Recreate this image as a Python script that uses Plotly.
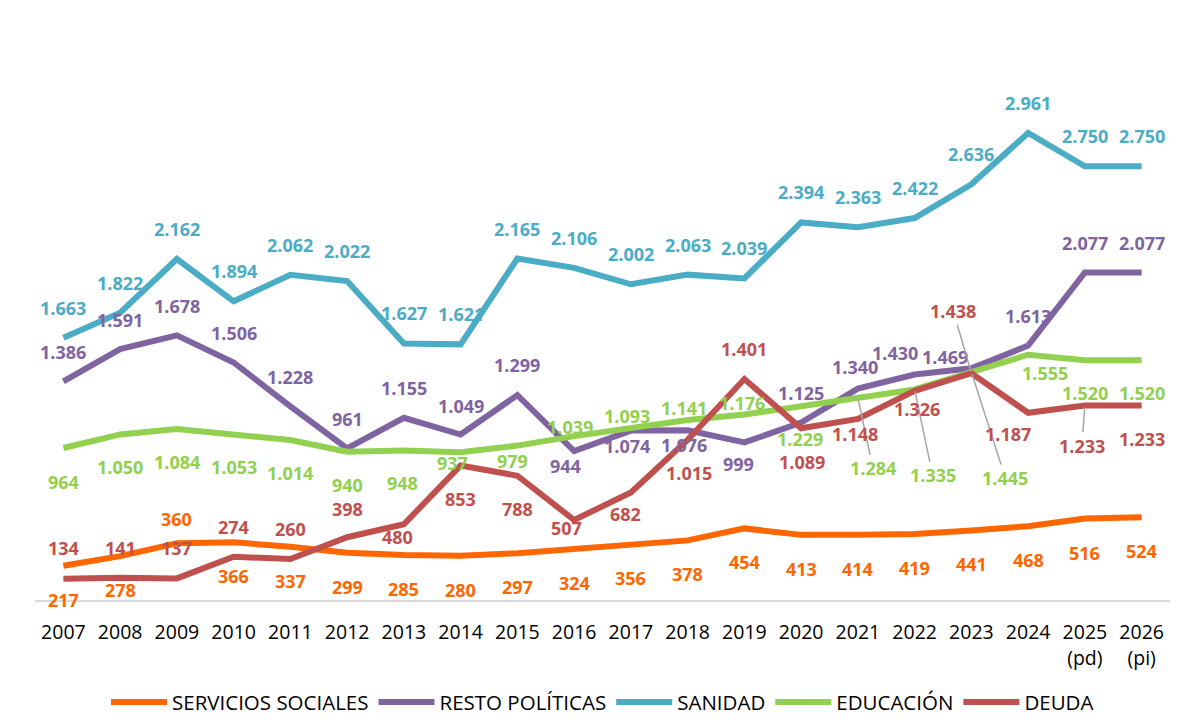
import plotly.graph_objects as go

YEARS = list(range(2007, 2027))
TICK_LABELS = [str(y) for y in range(2007, 2025)] + ["2025<br>(pd)", "2026<br>(pi)"]

SERVICIOS_SOCIALES = [217, 278, 360, 366, 337, 299, 285, 280, 297, 324, 356, 378, 454, 413, 414, 419, 441, 468, 516, 524]
RESTO_POLITICAS = [1386, 1591, 1678, 1506, 1228, 961, 1155, 1049, 1299, 944, 1074, 1076, 999, 1125, 1340, 1430, 1469, 1613, 2077, 2077]
SANIDAD = [1663, 1822, 2162, 1894, 2062, 2022, 1627, 1621, 2165, 2106, 2002, 2063, 2039, 2394, 2363, 2422, 2636, 2961, 2750, 2750]
EDUCACION = [964, 1050, 1084, 1053, 1014, 940, 948, 937, 979, 1039, 1093, 1141, 1176, 1229, 1284, 1335, 1445, 1555, 1520, 1520]
DEUDA = [134, 141, 137, 274, 260, 398, 480, 853, 788, 507, 682, 1015, 1401, 1089, 1148, 1326, 1438, 1187, 1233, 1233]

# label placement (pixel offsets dx, dy; dy positive = downward), and leader-line flags
OFF_SS = [(0, 34), (0, 34), (0, -24)] + [(0, 34)] * 17
OFF_RP = [(0, -29), (0, -29), (0, -29), (0, -29), (0, -29), (0, -29), (0, -30), (0, -29), (0, -30),
          (-9, 15), (-4, 15), (-4, 15), (-6, 22), (0, -30), (-3, -22), (-20, -21), (-26, -11),
          (0, -30), (0, -29), (0, -29)]
OFF_SA = [(0, -30)] * 20
OFF_ED = [(0, 34), (0, 33), (0, 33), (0, 33), (0, 33), (0, 33), (-1, 33), (-8, 11), (-5, 15),
          (-4, -9), (-4, -12), (-4, -12), (-2, -12), (-1, 33), (15, 71), (18, 86), (34, 106),
          (17, 18), (0, 33), (0, 33)]
OFF_DE = [(0, -31), (0, -30), (0, -30), (0, -30), (0, -30), (0, -28), (-6, 13), (0, 34), (0, 33),
          (-8, 8), (-5, 22), (1, 33), (0, -30), (1, 34), (-3, 15), (2, 18), (-18, -62), (-20, 21),
          (-3, 40), (0, 33)]
LEADER_ED = {14, 15, 16}
LEADER_DE = {16, 18}

SERIES = [
    ("SERVICIOS SOCIALES", SERVICIOS_SOCIALES, "#FF6600", OFF_SS, set()),
    ("RESTO POLÍTICAS", RESTO_POLITICAS, "#8064A2", OFF_RP, set()),
    ("SANIDAD", SANIDAD, "#4BACC6", OFF_SA, set()),
    ("EDUCACIÓN", EDUCACION, "#92D050", OFF_ED, LEADER_ED),
    ("DEUDA", DEUDA, "#C0504D", OFF_DE, LEADER_DE),
]

FONT = "Open Sans, Lato, DejaVu Sans, sans-serif"


def fmt(v):
    return f"{v:,}".replace(",", ".")


fig = go.Figure()
annotations = []
for name, vals, color, offs, leaders in SERIES:
    fig.add_trace(go.Scatter(
        x=YEARS, y=vals, mode="lines", name=name,
        line=dict(color=color, width=6),
        hoverinfo="x+y+name",
    ))
    for i, (yr, v) in enumerate(zip(YEARS, vals)):
        dx, dy = offs[i]
        base = dict(x=yr, y=v, xref="x", yref="y", text=fmt(v),
                    font=dict(family=FONT, size=18, color=color, weight="bold"),
                    xanchor="center", yanchor="middle")
        if i in leaders:
            base.update(showarrow=True, ax=dx, ay=dy, axref="pixel", ayref="pixel",
                        arrowhead=0, arrowwidth=1.5, arrowcolor="#A6A6A6", standoff=2)
        else:
            base.update(showarrow=False, xshift=dx, yshift=-dy)
        annotations.append(base)

# the page body adds an 8px offset, so the figure is sized to fill the rest of the window
fig.update_layout(
    width=1187, height=717,
    margin=dict(l=27, r=25, t=40, b=125, autoexpand=False),
    paper_bgcolor="white", plot_bgcolor="white",
    font=dict(family=FONT, color="black"),
    xaxis=dict(
        range=[2006.5, 2026.5], tickmode="array", tickvals=YEARS, ticktext=TICK_LABELS,
        showgrid=False, zeroline=False, showline=True, linecolor="#D9D9D9", linewidth=2,
        ticks="", ticklabelstandoff=14, automargin=False,
        tickfont=dict(family=FONT, size=19.5, color="black"), tickangle=0,
    ),
    yaxis=dict(range=[0, 3500], visible=False, showgrid=False, zeroline=False, automargin=False),
    legend=dict(
        orientation="h", x=0.5, xanchor="center", y=-0.185, yanchor="middle",
        font=dict(family=FONT, size=20.5, color="black"), traceorder="normal",
        itemwidth=56,
    ),
    annotations=annotations,
    showlegend=True,
)

fig.write_html("out.html")
